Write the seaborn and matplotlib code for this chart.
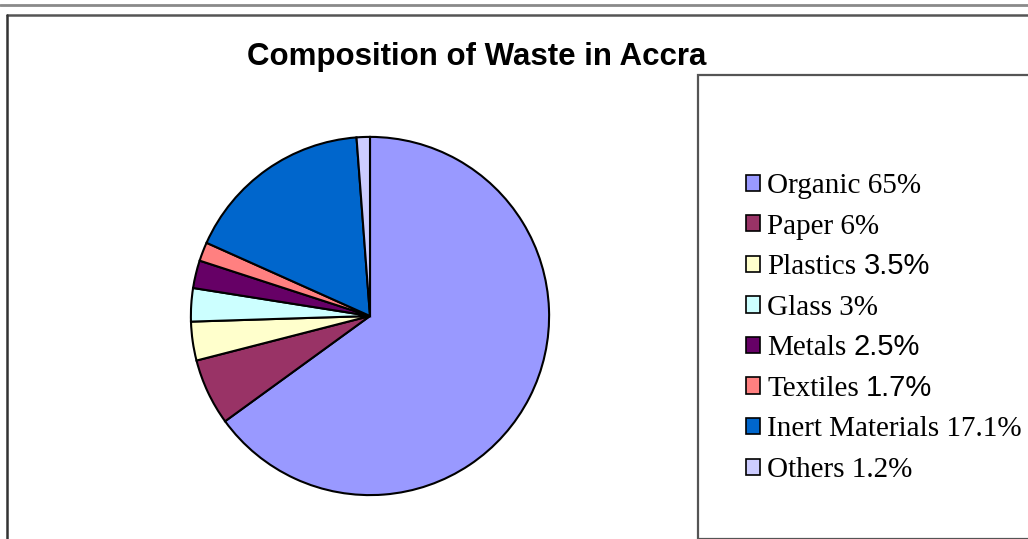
import matplotlib
matplotlib.use("Agg")
import matplotlib.pyplot as plt
import seaborn as sns
from matplotlib.patches import Patch, Rectangle
from matplotlib.lines import Line2D
from matplotlib.transforms import IdentityTransform

# waste composition (percent)
materials = ["Organic", "Paper", "Plastics", "Glass", "Metals",
             "Textiles", "Inert Materials", "Others"]
shares = [65, 6, 3.5, 3, 2.5, 1.7, 17.1, 1.2]
share_labels = ["65%", "6%", "3.5%", "3%", "2.5%", "1.7%", "17.1%", "1.2%"]
# some of the percentages are typeset in a sans font in the original legend
sans_share = [False, False, True, False, True, True, False, False]
colors = ["#9999FF", "#993366", "#FFFFCC", "#CCFFFF",
          "#660066", "#FF8080", "#0066CC", "#CCCCFF"]

sns.set_theme(style="white")
plt.rcParams["font.family"] = ["Liberation Serif", "DejaVu Serif"]
plt.rcParams["text.color"] = "black"

W, H = 1028, 539
fig = plt.figure(figsize=(W / 100, H / 100), dpi=100)
fig.patch.set_facecolor("white")


def fx(px):
    return px / W


def fy(py):
    return 1 - py / H


# page frame lines
fig.add_artist(Line2D([0, 1], [fy(5), fy(5)], transform=fig.transFigure, color="#8a8a8a", lw=2))
fig.add_artist(Line2D([fx(7), 1], [fy(15), fy(15)], transform=fig.transFigure, color="#555555", lw=1.8))
fig.add_artist(Line2D([fx(7), fx(7)], [fy(15), 0], transform=fig.transFigure, color="#333333", lw=1.8))

# legend box
fig.add_artist(Rectangle((fx(698), 0), fx(W + 10) - fx(698), fy(75), transform=fig.transFigure,
                         fill=False, edgecolor="#555555", lw=1.6))

# pie
cx, cy, r = 370, 316, 180
ax = fig.add_axes([fx(cx - r), fy(cy + r), fx(2 * r), (2 * r) / H])
ax.pie(shares, colors=colors, startangle=90, counterclock=False,
       wedgeprops=dict(edgecolor="black", linewidth=1.5))
ax.set_xlim(-1.005, 1.005)
ax.set_ylim(-1.005, 1.005)
ax.set_aspect("equal")
ax.axis("off")

fig.text(fx(477), fy(57), "Composition of Waste in Accra", ha="center", va="center",
         fontsize=22.5, fontweight="bold", color="black", family=["Liberation Sans", "DejaVu Sans"])

labels = [m if s else f"{m} {p}" for m, p, s in zip(materials, share_labels, sans_share)]
handles = [Patch(facecolor=c, edgecolor="black", linewidth=1.2) for c in colors]
leg = fig.legend(handles, labels, loc="upper left", bbox_to_anchor=(fx(746), fy(173)),
                 frameon=False, fontsize=21, handlelength=0.48, handleheight=0.48,
                 handletextpad=0.25, labelspacing=0.50, borderpad=0, borderaxespad=0,
                 labelcolor="black")

fig.canvas.draw()
renderer = fig.canvas.get_renderer()
for txt, is_sans, lab in zip(leg.get_texts(), sans_share, share_labels):
    if is_sans:
        bb = txt.get_window_extent(renderer)
        x, y = txt.get_transform().transform(txt.get_position())
        fig.text(bb.x1 + 7, y, lab, transform=IdentityTransform(), ha="left", va="baseline",
                 fontsize=21, color="black", family=["Liberation Sans", "DejaVu Sans"])

fig.savefig("out.png", dpi=100)
